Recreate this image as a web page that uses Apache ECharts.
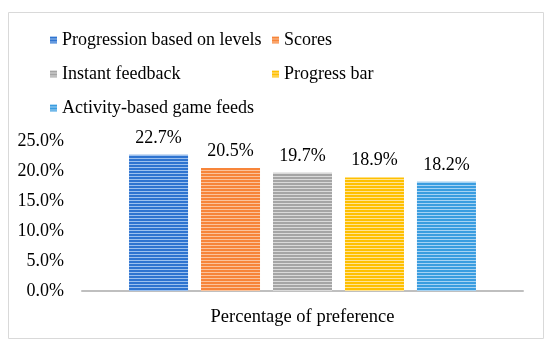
<!DOCTYPE html>
<html><head><meta charset="utf-8">
<script src="https://cdn.jsdelivr.net/npm/echarts@6/dist/echarts.min.js"></script>
<style>html,body{margin:0;padding:0;background:#fff}#c{width:550px;height:347px}</style>
</head><body><div id="c"></div>
<script>
const categories = ['Percentage of preference'];
const seriesNames = ['Progression based on levels', 'Scores', 'Instant feedback', 'Progress bar', 'Activity-based game feeds'];
const values = [22.7, 20.5, 19.7, 18.9, 18.2];
const baseColors = ['#2f74d0', '#f7853a', '#a5a5a5', '#ffc000', '#3a9de0'];
const lightColors = ['#9cc0ee', '#fbc39c', '#dadada', '#ffe394', '#a6d3f3'];
const yMin = 0, yMax = 25, yStep = 5;

function stripe(c, l) {
  const cv = document.createElement('canvas');
  cv.width = 4; cv.height = 3;
  const ctx = cv.getContext('2d');
  ctx.fillStyle = c; ctx.fillRect(0, 0, 4, 2);
  ctx.fillStyle = l; ctx.fillRect(0, 2, 4, 1);
  return {image: cv, repeat: 'repeat'};
}
const FONT = 'Liberation Serif';
const chart = echarts.init(document.getElementById('c'), null, {renderer: 'canvas'});
const legendBase = {
  orient: 'vertical', itemWidth: 7, itemHeight: 7, itemGap: 14, icon: 'rect',
  textStyle: {fontFamily: FONT, fontSize: 18, color: '#000', lineHeight: 20}
};
chart.setOption({
  animation: false,
  graphic: [{type: 'rect', shape: {x: 8.5, y: 12.5, width: 535, height: 326}, style: {fill: null, stroke: '#d9d9d9', lineWidth: 1}}],
  legend: [
    Object.assign({left: 45, top: 25, data: [seriesNames[0], seriesNames[2], seriesNames[4]]}, legendBase),
    Object.assign({left: 267, top: 25, data: [seriesNames[1], seriesNames[3]]}, legendBase)
  ],
  grid: {left: 82, right: 27, top: 141, bottom: 56},
  xAxis: {
    type: 'category', data: categories,
    axisLine: {lineStyle: {color: '#bfbfbf', width: 2}},
    axisTick: {show: false},
    axisLabel: {fontFamily: FONT, fontSize: 18.5, color: '#000', margin: 17}
  },
  yAxis: {
    type: 'value', min: yMin, max: yMax, interval: yStep,
    axisLine: {show: false}, axisTick: {show: false}, splitLine: {show: false},
    axisLabel: {fontFamily: FONT, fontSize: 18, color: '#000', margin: 18, formatter: v => v.toFixed(1) + '%'}
  },
  series: seriesNames.map((n, i) => ({
    name: n, type: 'bar', data: [values[i]], barWidth: 59, barGap: '22%',
    itemStyle: {color: stripe(baseColors[i], lightColors[i])},
    label: {show: true, position: 'top', distance: 8, fontFamily: FONT, fontSize: 18, color: '#000', formatter: p => p.value.toFixed(1) + '%'}
  }))
});
</script></body></html>
